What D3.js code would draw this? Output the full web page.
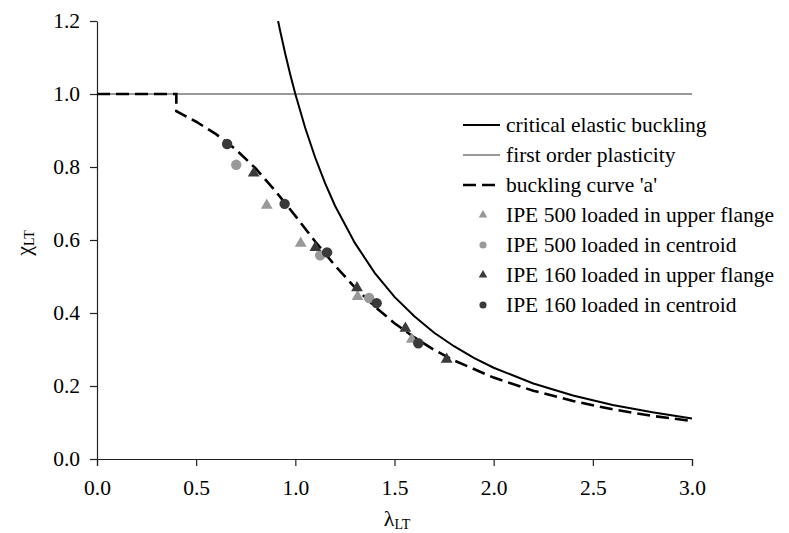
<!DOCTYPE html>
<html>
<head>
<meta charset="utf-8">
<script src="https://cdn.jsdelivr.net/npm/d3@7"></script>
<style>
    body { margin: 0; background: #fff; }
    svg text { font-family: "Times New Roman", "Liberation Serif", Tinos, "DejaVu Serif", serif !important; fill: #000; }
</style>
</head>
<body>
<svg id="drawing_region"></svg>
<script>
// tick labels
const x_ticks = [0.0, 0.5, 1.0, 1.5, 2.0, 2.5, 3.0];
const y_ticks = [0.0, 0.2, 0.4, 0.6, 0.8, 1.0, 1.2];

// curves
const critical_x = [0.913, 0.925, 0.95, 0.975, 1.0, 1.05, 1.1, 1.15, 1.2, 1.3, 1.4, 1.5, 1.6, 1.7, 1.8, 1.9, 2.0, 2.2, 2.4, 2.6, 2.8, 3.0];
const critical_y = [1.2, 1.169, 1.108, 1.052, 1.0, 0.907, 0.826, 0.756, 0.694, 0.592, 0.510, 0.444, 0.391, 0.346, 0.309, 0.277, 0.25, 0.207, 0.174, 0.148, 0.128, 0.111];

const plastic_x = [0.0, 3.0];
const plastic_y = [1.0, 1.0];

const curve_a_x = [0.0, 0.4, 0.4, 0.5, 0.6, 0.7, 0.8, 0.9, 1.0, 1.1, 1.2, 1.3, 1.4, 1.5, 1.6, 1.7, 1.8, 2.0, 2.2, 2.4, 2.6, 2.8, 3.0];
const curve_a_y = [1.0, 1.0, 0.953, 0.924, 0.890, 0.848, 0.796, 0.734, 0.666, 0.596, 0.530, 0.470, 0.418, 0.372, 0.333, 0.299, 0.270, 0.223, 0.187, 0.159, 0.136, 0.118, 0.104];

// test points
const ipe500_upper_x = [0.856, 1.027, 1.314, 1.587];
const ipe500_upper_y = [0.695, 0.591, 0.445, 0.328];
const ipe500_centroid_x = [0.702, 1.125, 1.372];
const ipe500_centroid_y = [0.806, 0.558, 0.441];
const ipe160_upper_x = [0.790, 1.101, 1.311, 1.555, 1.763];
const ipe160_upper_y = [0.783, 0.579, 0.469, 0.358, 0.273];
const ipe160_centroid_x = [0.656, 0.946, 1.160, 1.410, 1.620];
const ipe160_centroid_y = [0.863, 0.699, 0.566, 0.427, 0.317];

const legend_labels = [
    "critical elastic buckling",
    "first order plasticity",
    "buckling curve 'a'",
    "IPE 500 loaded in upper flange",
    "IPE 500 loaded in centroid",
    "IPE 160 loaded in upper flange",
    "IPE 160 loaded in centroid"
];

const zip = (xs, ys) => xs.map((x, i) => ({x: x, y: ys[i]}));

const lines = [
    {key: 'critical', data: zip(critical_x, critical_y), color: '#000', width: 2, dash: null},
    {key: 'plastic', data: zip(plastic_x, plastic_y), color: '#999', width: 2, dash: null},
    {key: 'curve_a', data: zip(curve_a_x, curve_a_y), color: '#000', width: 2.6, dash: '13,6'}
];

const markers = [
    {key: 'ipe500_upper', data: zip(ipe500_upper_x, ipe500_upper_y), color: '#999', shape: d3.symbolTriangle},
    {key: 'ipe500_centroid', data: zip(ipe500_centroid_x, ipe500_centroid_y), color: '#999', shape: d3.symbolCircle},
    {key: 'ipe160_upper', data: zip(ipe160_upper_x, ipe160_upper_y), color: '#3a3a3a', shape: d3.symbolTriangle},
    {key: 'ipe160_centroid', data: zip(ipe160_centroid_x, ipe160_centroid_y), color: '#3a3a3a', shape: d3.symbolCircle}
];

const serif = '"Times New Roman", "Liberation Serif", Tinos, "DejaVu Serif", serif';

class BucklingChart {

    constructor( config ) {
        this.config = {
            parent: config.parent,
            width: config.width || 789,
            height: config.height || 533,
            margin: config.margin || {top:21, right:97, bottom:74, left:97}
        };
        this.init();
    }

    init() {
        let self = this;

        self.svg = d3.select( self.config.parent )
            .attr('width', self.config.width)
            .attr('height', self.config.height)
            .style('font-family', serif);

        self.chart = self.svg.append('g')
            .attr('transform', `translate(${self.config.margin.left}, ${self.config.margin.top})`);

        self.inner_width = self.config.width - self.config.margin.left - self.config.margin.right;
        self.inner_height = self.config.height - self.config.margin.top - self.config.margin.bottom;

        self.xscale = d3.scaleLinear()
            .domain( [0, 3] )
            .range( [0, self.inner_width] );

        self.yscale = d3.scaleLinear()
            .domain( [0, 1.2] )
            .range( [self.inner_height, 0] );

        self.chart.append('clipPath')
            .attr('id', 'plot_clip')
            .append('rect')
            .attr('width', self.inner_width + 2)
            .attr('height', self.inner_height);

        self.xaxis_group = self.chart.append('g')
            .attr('transform', `translate(0, ${self.inner_height})`);

        self.yaxis_group = self.chart.append('g');
    }

    render() {
        let self = this;

        const xaxis = d3.axisBottom( self.xscale )
            .tickValues( x_ticks )
            .tickFormat( d3.format('.1f') )
            .tickSize(7)
            .tickPadding(14);

        const yaxis = d3.axisLeft( self.yscale )
            .tickValues( y_ticks )
            .tickFormat( d3.format('.1f') )
            .tickSize(7)
            .tickSizeOuter(0)
            .tickPadding(10);

        self.xaxis_group.call( xaxis );
        self.yaxis_group.call( yaxis );
        self.xaxis_group.attr('font-family', null).attr('font-size', null);
        self.yaxis_group.attr('font-family', null).attr('font-size', null);

        self.svg.selectAll('.domain, .tick line')
            .attr('stroke', '#222')
            .attr('stroke-width', 1.2);
        self.svg.selectAll('.tick text')
            .style('font-size', '21.5px')
            .style('font-family', serif);
        self.xaxis_group.selectAll('.tick text').attr('dy', '0.71em');

        const line = d3.line()
            .x( d => self.xscale( d.x ) )
            .y( d => self.yscale( d.y ) );

        const order = [lines[1], lines[0], lines[2]];
        self.chart.append('g')
            .attr('clip-path', 'url(#plot_clip)')
            .selectAll('path')
            .data(order)
            .join('path')
            .attr('d', d => line( d.data ))
            .attr('fill', 'none')
            .attr('stroke', d => d.color)
            .attr('stroke-width', d => d.width)
            .attr('stroke-dasharray', d => d.dash);

        markers.forEach( m => {
            self.chart.append('g')
                .selectAll('path')
                .data(m.data)
                .join('path')
                .attr('d', d3.symbol().type(m.shape).size(m.shape === d3.symbolCircle ? 85 : 60))
                .attr('transform', d => `translate(${self.xscale(d.x)}, ${self.yscale(d.y)})`)
                .attr('fill', m.color);
        });

        // axis titles
        self.svg.append('text')
            .attr('x', 397)
            .attr('y', 526)
            .attr('text-anchor', 'middle')
            .style('font-size', '22px')
            .style('font-family', serif)
            .html('λ<tspan font-size="14px" dy="3">LT</tspan>');

        self.svg.append('text')
            .attr('transform', 'translate(31, 243) rotate(-90)')
            .attr('text-anchor', 'middle')
            .style('font-size', '22px')
            .style('font-family', serif)
            .html('χ<tspan font-size="14px" dy="3">LT</tspan>');

        // legend
        const legend = self.svg.append('g')
            .attr('transform', 'translate(463, 125)');

        const rows = legend.selectAll('g')
            .data(legend_labels)
            .join('g')
            .attr('transform', (d, i) => `translate(0, ${i * 30})`);

        rows.append('text')
            .attr('x', 43)
            .attr('y', 0)
            .attr('dy', '0.33em')
            .style('font-size', '21.5px')
            .style('font-family', serif)
            .text(d => d);

        lines.forEach( (l, i) => {
            legend.append('line')
                .attr('x1', 0).attr('x2', 37)
                .attr('y1', i * 30).attr('y2', i * 30)
                .attr('stroke', l.color)
                .attr('stroke-width', l.width)
                .attr('stroke-dasharray', l.dash);
        });

        markers.forEach( (m, i) => {
            legend.append('path')
                .attr('d', d3.symbol().type(m.shape).size(m.shape === d3.symbolCircle ? 40 : 32))
                .attr('transform', `translate(20, ${(i + 3) * 30})`)
                .attr('fill', m.color);
        });
    }
}

const chart = new BucklingChart({
    parent: '#drawing_region',
    width: 789,
    height: 533,
    margin: {top:21, right:97, bottom:74, left:97}
});
chart.render();
</script>
</body>
</html>
